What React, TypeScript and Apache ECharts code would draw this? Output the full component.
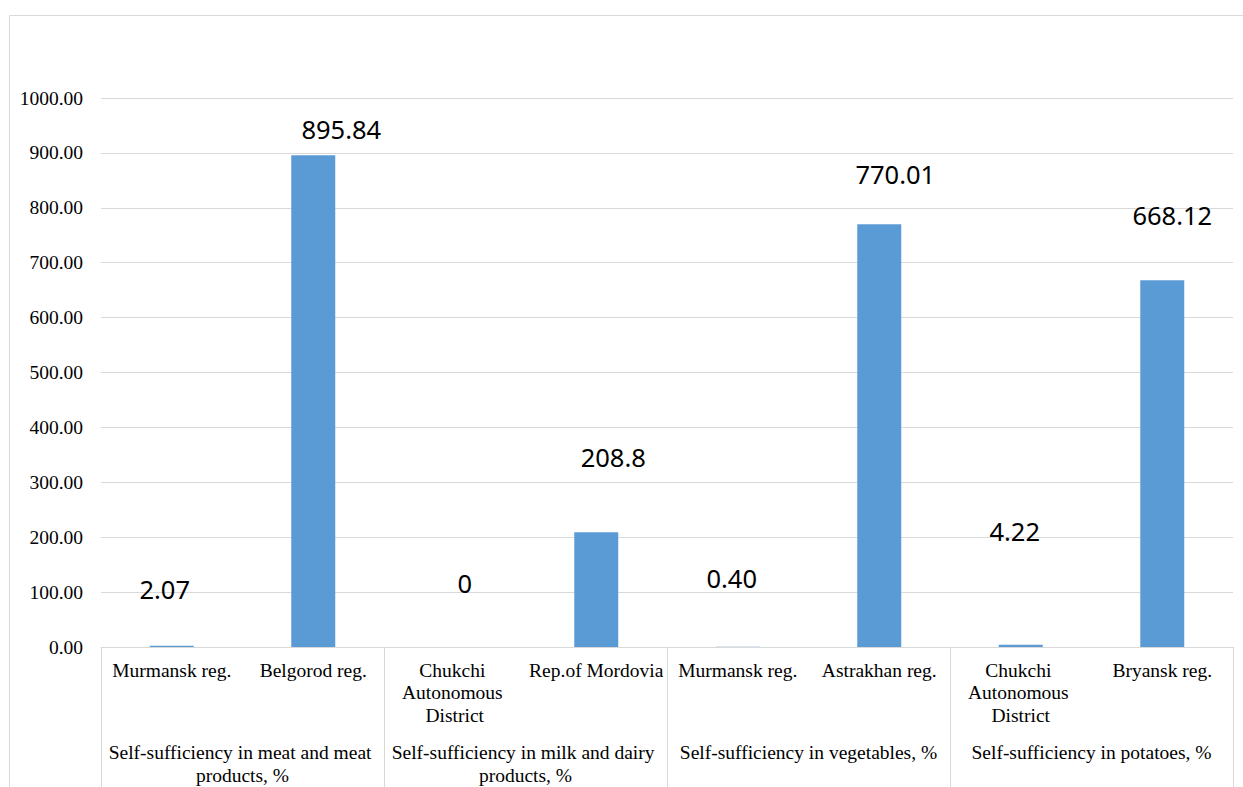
import React, { useEffect, useRef } from "react";
import * as echarts from "echarts";

const regions = [
  "Murmansk reg.",
  "Belgorod reg.",
  "Chukchi Autonomous District",
  "Rep.of Mordovia",
  "Murmansk reg.",
  "Astrakhan reg.",
  "Chukchi Autonomous District",
  "Bryansk reg.",
];
const groups = [
  "Self-sufficiency in meat and meat products, %",
  "Self-sufficiency in milk and dairy products, %",
  "Self-sufficiency in vegetables, %",
  "Self-sufficiency in potatoes, %",
];
const values = [2.07, 895.84, 0, 208.8, 0.4, 770.01, 4.22, 668.12];
const valueLabels = ["2.07", "895.84", "0", "208.8", "0.40", "770.01", "4.22", "668.12"];
// manual label placement (as in the original chart)
const labelOffsets = [
  [-7, -44],
  [28, -13.5],
  [10, -51.5],
  [17, -62],
  [-6, -56],
  [16, -37.5],
  [-6, -100.7],
  [10, -52.7],
];
const yMin = 0;
const yMax = 1000;
const yStep = 100;

export default function App() {
  const ref = useRef<HTMLDivElement>(null);
  useEffect(() => {
    document.body.style.margin = "0";
    const chart = echarts.init(ref.current!, null, { renderer: "svg" });
    const serif = "Liberation Serif";
    chart.setOption({
      animation: false,
      textStyle: { fontFamily: serif, fontSize: 19.5, color: "#000" },
      graphic: [
        {
          type: "rect",
          shape: { x: 9.5, y: 15.5, width: 1400, height: 900 },
          style: { fill: "none", stroke: "#d9d9d9", lineWidth: 1 },
          silent: true,
        },
      ],
      grid: { left: 101, right: 10, top: 98, bottom: 137, containLabel: false },
      xAxis: [
        {
          type: "category",
          data: regions,
          position: "bottom",
          axisLine: { show: false },
          axisTick: { show: false },
          axisLabel: {
            interval: 0,
            margin: 12,
            fontFamily: serif,
            fontSize: 19.5,
            lineHeight: 22.5,
            color: "#000",
            width: 141,
            overflow: "break",
            align: "center",
          },
        },
        {
          type: "category",
          data: groups,
          position: "bottom",
          axisLine: { show: true, lineStyle: { color: "#d9d9d9", width: 1 } },
          axisTick: {
            show: true,
            length: 140,
            lineStyle: { color: "#d9d9d9", width: 1 },
          },
          axisLabel: {
            interval: 0,
            margin: 94,
            fontFamily: serif,
            fontSize: 19.5,
            lineHeight: 23,
            color: "#000",
            width: 281,
            overflow: "break",
            align: "center",
          },
        },
      ],
      yAxis: [
        {
          type: "value",
          min: yMin,
          max: yMax,
          interval: yStep,
          axisLine: { show: false },
          axisTick: { show: false },
          splitLine: { lineStyle: { color: "#d9d9d9", width: 1 } },
          axisLabel: {
            show: true,
            margin: 18,
            fontFamily: "Liberation Serif",
            fontSize: 19.5,
            color: "#000000",
            formatter: (v: number) => v.toFixed(2),
          },
        },
      ],
      series: [
        {
          type: "bar",
          xAxisIndex: 0,
          yAxisIndex: 0,
          barWidth: 44,
          itemStyle: { color: "#5B9BD5" },
          data: values.map((v, i) => ({
            value: v,
            label: {
              show: true,
              position: "top",
              distance: 0,
              offset: labelOffsets[i],
              formatter: valueLabels[i],
              fontFamily: "Noto Sans",
              fontSize: 25.5,
              lineHeight: 26,
              color: "#000",
            },
          })),
        },
      ],
    });
    return () => chart.dispose();
  }, []);
  return <div ref={ref} style={{ width: 1243, height: 787 }} />;
}
